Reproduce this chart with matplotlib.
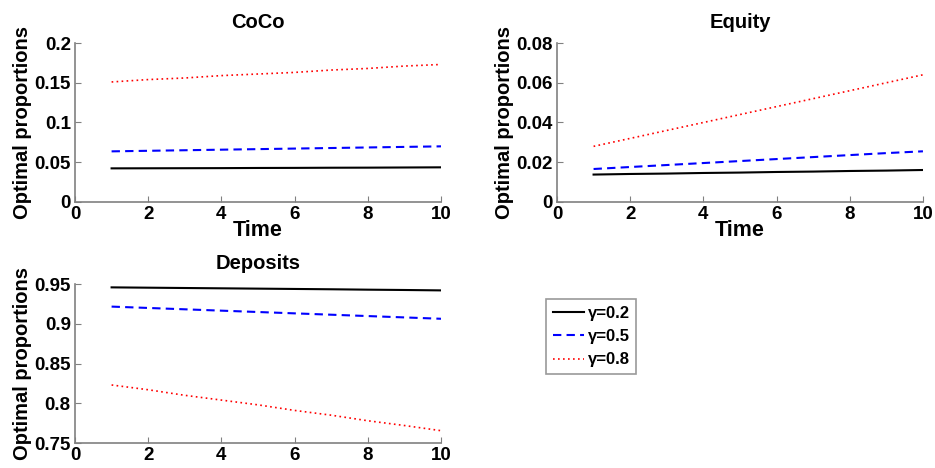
import numpy as np
import matplotlib.pyplot as plt

plt.rcParams['font.family'] = ['Liberation Sans', 'DejaVu Sans']
plt.rcParams['font.weight'] = 'bold'

t = np.arange(1, 11)

gammas = ['γ=0.2', 'γ=0.5', 'γ=0.8']

coco = [
    [0.0423, 0.0424, 0.0425, 0.0426, 0.0428, 0.0429, 0.0431, 0.0432, 0.0434, 0.0436],
    [0.0637, 0.0644, 0.0651, 0.0658, 0.0665, 0.0672, 0.0679, 0.0686, 0.0693, 0.0700],
    [0.151, 0.154, 0.156, 0.159, 0.161, 0.163, 0.166, 0.168, 0.171, 0.173],
]
equity = [
    [0.0138, 0.0141, 0.0143, 0.0146, 0.0148, 0.0151, 0.0153, 0.0156, 0.0158, 0.0161],
    [0.0166, 0.0176, 0.0186, 0.0196, 0.0206, 0.0216, 0.0226, 0.0236, 0.0246, 0.0255],
    [0.028, 0.032, 0.036, 0.040, 0.044, 0.048, 0.052, 0.056, 0.060, 0.064],
]
deposits = [
    [0.9458, 0.9454, 0.9450, 0.9446, 0.9442, 0.9438, 0.9434, 0.9429, 0.9425, 0.9420],
    [0.9216, 0.9199, 0.9182, 0.9165, 0.9148, 0.9131, 0.9114, 0.9097, 0.9080, 0.9063],
    [0.823, 0.817, 0.810, 0.804, 0.798, 0.791, 0.785, 0.778, 0.772, 0.7655],
]

styles = [dict(color='black', ls='-', lw=1.5),
          dict(color='blue', ls=(0, (4, 2.5)), lw=1.5),
          dict(color='red', ls=(0, (1, 2)), lw=1.2)]

fig = plt.figure(figsize=(9.35, 4.68), dpi=100)
ax1 = fig.add_axes([0.0802, 0.5684, 0.3915, 0.3397])
ax2 = fig.add_axes([0.5957, 0.5684, 0.3914, 0.3397])
ax3 = fig.add_axes([0.0802, 0.0534, 0.3915, 0.3397])


def style(ax, title, ylim, yticks, yfmt, xlabel=True):
    ax.set_xlim(0, 10)
    ax.set_ylim(*ylim)
    ax.set_xticks([0, 2, 4, 6, 8, 10])
    ax.set_yticks(yticks)
    ax.set_yticklabels([yfmt(v) for v in yticks])
    for s in ['top', 'right']:
        ax.spines[s].set_visible(False)
    for s in ['left', 'bottom']:
        ax.spines[s].set_color('#808080')
        ax.spines[s].set_linewidth(1.2)
    ax.tick_params(direction='in', length=4, color='#808080', labelsize=13.5, pad=3)
    for lab in ax.get_xticklabels() + ax.get_yticklabels():
        lab.set_fontweight('bold')
    ax.set_title(title, fontsize=14.5, fontweight='bold', pad=11)
    ax.set_ylabel('Optimal proportions', fontsize=14.5, fontweight='bold', labelpad=2)
    if xlabel:
        ax.set_xlabel('Time', fontsize=15.5, fontweight='bold', labelpad=-2)


def fmt(v):
    s = ('%.2f' % v).rstrip('0').rstrip('.')
    return s if s else '0'


lines = []
for i in range(3):
    lines += ax1.plot(t, coco[i], label=gammas[i], **styles[i])
    ax2.plot(t, equity[i], **styles[i])
    ax3.plot(t, deposits[i], **styles[i])

style(ax1, 'CoCo', (0, 0.2), [0, 0.05, 0.1, 0.15, 0.2], fmt)
style(ax2, 'Equity', (0, 0.08), [0, 0.02, 0.04, 0.06, 0.08], fmt)
style(ax3, 'Deposits', (0.75, 0.95), [0.75, 0.8, 0.85, 0.9, 0.95], fmt, xlabel=False)

leg = fig.legend(handles=lines, labels=gammas, loc='upper left',
                 bbox_to_anchor=(0.584, 0.361), borderaxespad=0, fancybox=False,
                 handlelength=1.9, handletextpad=0.2, borderpad=0.4,
                 labelspacing=0.5, prop={'weight': 'bold', 'size': 12})
leg.get_frame().set_edgecolor('#808080')
leg.get_frame().set_linewidth(1.2)

fig.savefig('out.png', dpi=100)
